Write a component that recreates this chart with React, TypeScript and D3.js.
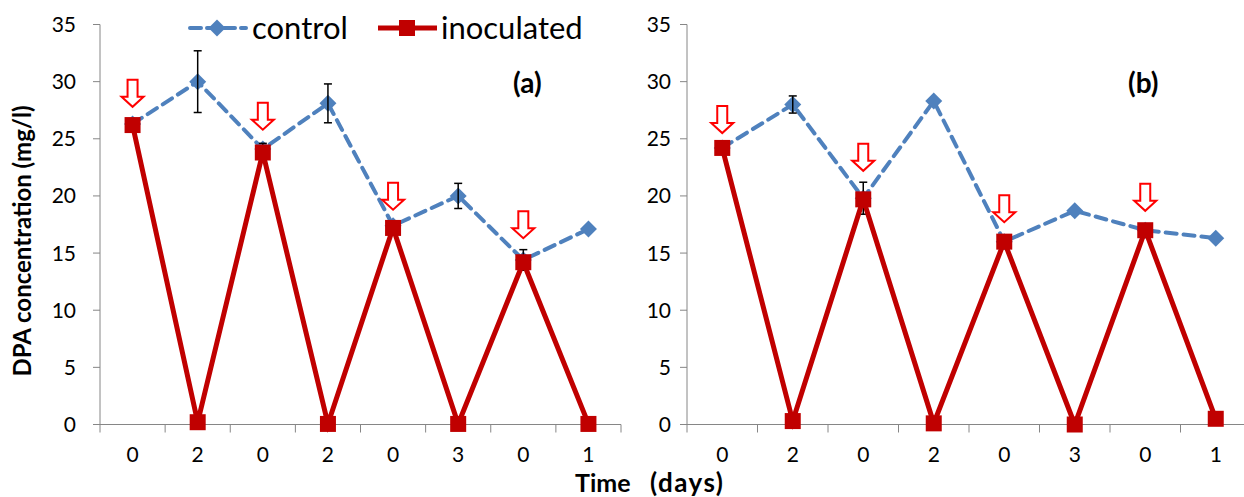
import React from "react";
import * as d3 from "d3";

const categories = ["0", "2", "0", "2", "0", "3", "0", "1"];
const yTicks = [0, 5, 10, 15, 20, 25, 30, 35];

const controlA = [26.3, 30.0, 24.1, 28.1, 17.4, 20.0, 14.4, 17.1];
const controlAErr = [0, 2.7, 0.5, 1.7, 0, 1.1, 0.9, 0];
const inoculatedA = [26.2, 0.2, 23.8, 0.05, 17.2, 0.05, 14.2, 0.05];
const arrowIdxA = [0, 2, 4, 6];
const arrowTipA = [27.8, 25.8, 18.8, 16.3];

const controlB = [24.2, 28.0, 19.8, 28.3, 16.0, 18.7, 17.0, 16.3];
const controlBErr = [0, 0.75, 1.4, 0, 0, 0, 0, 0];
const inoculatedB = [24.2, 0.3, 19.7, 0.1, 16.0, 0.0, 17.0, 0.5];
const arrowIdxB = [0, 2, 4, 6];
const arrowTipB = [25.5, 22.2, 17.7, 18.7];

const BLUE = "#4F81BD";
const RED = "#C00000";
const AXIS = "#868686";
const FONT = "Lato, 'Open Sans', sans-serif";

const yScale = d3.scaleLinear().domain([0, 35]).range([424.5, 24.5]);

function Arrow({ x, yTip }: { x: number; yTip: number }) {
  const hw = 11, sw = 5, hh = 10, total = 27;
  const p = [
    [x - sw, yTip - total],
    [x + sw, yTip - total],
    [x + sw, yTip - hh],
    [x + hw, yTip - hh],
    [x, yTip],
    [x - hw, yTip - hh],
    [x - sw, yTip - hh],
  ];
  return <polygon points={p.map((q) => q.join(",")).join(" ")} fill="white" stroke="#FF0000" strokeWidth={2} />;
}

function Panel({
  x0, x1, control, err, inoc, arrowIdx, arrowTip, label, labelX, tickLabelX,
}: {
  x0: number; x1: number; control: number[]; err: number[]; inoc: number[];
  arrowIdx: number[]; arrowTip: number[]; label: string; labelX: number; tickLabelX: number;
}) {
  const xScale = d3.scaleBand<number>().domain(categories.map((_, i) => i)).range([x0, x1]);
  const cx = (i: number) => (xScale(i) as number) + xScale.bandwidth() / 2;
  const line = d3.line<number>().x((_, i) => cx(i)).y((d) => yScale(d));
  const y0 = yScale(0);
  const ticksXPos = d3.range(categories.length + 1).map((i) => x0 + i * xScale.bandwidth());
  return (
    <g>
      <line x1={x0} x2={x0} y1={yScale(35)} y2={y0} stroke={AXIS} strokeWidth={1} />
      {yTicks.map((t) => (
        <g key={t}>
          <line x1={x0 - 7} x2={x0} y1={yScale(t)} y2={yScale(t)} stroke={AXIS} strokeWidth={1} />
          <text x={tickLabelX} y={yScale(t)} dy="0.36em" textAnchor="end" fontSize={21} fontFamily={FONT} fill="#000">
            {t}
          </text>
        </g>
      ))}
      <line x1={x0} x2={x1} y1={y0} y2={y0} stroke={AXIS} strokeWidth={1} />
      {ticksXPos.map((tx, i) => (
        <line key={i} x1={tx} x2={tx} y1={y0} y2={y0 + 8} stroke={AXIS} strokeWidth={1} />
      ))}
      {categories.map((c, i) => (
        <text key={i} x={cx(i)} y={y0 + 37} textAnchor="middle" fontSize={21} fontFamily={FONT} fill="#000">
          {c}
        </text>
      ))}
      <path d={line(control) as string} fill="none" stroke={BLUE} strokeWidth={4} strokeDasharray="11,7" strokeLinecap="round" />
      {control.map((v, i) => (
        <rect key={i} x={cx(i) - 6} y={yScale(v) - 6} width={12} height={12} fill={BLUE} transform={`rotate(45 ${cx(i)} ${yScale(v)})`} />
      ))}
      {err.map((e, i) =>
        e > 0 ? (
          <g key={i} stroke="#000" strokeWidth={1.5}>
            <line x1={cx(i)} x2={cx(i)} y1={yScale(control[i] + e)} y2={yScale(control[i] - e)} />
            <line x1={cx(i) - 4} x2={cx(i) + 4} y1={yScale(control[i] + e)} y2={yScale(control[i] + e)} />
            <line x1={cx(i) - 4} x2={cx(i) + 4} y1={yScale(control[i] - e)} y2={yScale(control[i] - e)} />
          </g>
        ) : null
      )}
      <path d={line(inoc) as string} fill="none" stroke={RED} strokeWidth={5} strokeLinejoin="miter" />
      {inoc.map((v, i) => (
        <rect key={i} x={cx(i) - 8} y={yScale(v) - 8} width={16} height={16} fill={RED} />
      ))}
      {arrowIdx.map((idx, k) => (
        <Arrow key={k} x={cx(idx)} yTip={yScale(arrowTip[k])} />
      ))}
      <text x={labelX} y={93} fontSize={28} fontWeight="bold" fontFamily={FONT} fill="#000">
        {label}
      </text>
    </g>
  );
}

export default function App() {
  return (
    <svg width={1244} height={497} style={{ position: "absolute", left: 0, top: 0, display: "block", background: "#fff" }}>
      <rect width={1244} height={497} fill="#fff" />
      <Panel x0={100} x1={621} control={controlA} err={controlAErr} inoc={inoculatedA}
        arrowIdx={arrowIdxA} arrowTip={arrowTipA} label="(a)" labelX={513} tickLabelX={76} />
      <Panel x0={687} x1={1251} control={controlB} err={controlBErr} inoc={inoculatedB}
        arrowIdx={arrowIdxB} arrowTip={arrowTipB} label="(b)" labelX={1128} tickLabelX={671} />
      <text transform="translate(31,241) rotate(-90)" textAnchor="middle" fontSize={24} fontWeight="bold" fontFamily={FONT} fill="#000">
        DPA concentration (mg/l)
      </text>
      <text y={492} fontSize={25} fontWeight="bold" fontFamily={FONT} fill="#000">
        <tspan x={575}>Time</tspan>
        <tspan x={650} fontSize={26} letterSpacing={1.5}>(days)</tspan>
      </text>
      <g>
        <line x1={190} x2={246} y1={28} y2={28} stroke={BLUE} strokeWidth={4} strokeDasharray="11,6" strokeLinecap="round" />
        <rect x={211} y={22} width={12} height={12} fill={BLUE} transform="rotate(45 217 28)" />
        <text x={252} y={39} fontSize={31} fontFamily={FONT} fill="#000">control</text>
        <line x1={378} x2={437} y1={28} y2={28} stroke={RED} strokeWidth={5} />
        <rect x={399} y={20} width={16} height={16} fill={RED} />
        <text x={441} y={39} fontSize={31} fontFamily={FONT} fill="#000">inoculated</text>
      </g>
    </svg>
  );
}
